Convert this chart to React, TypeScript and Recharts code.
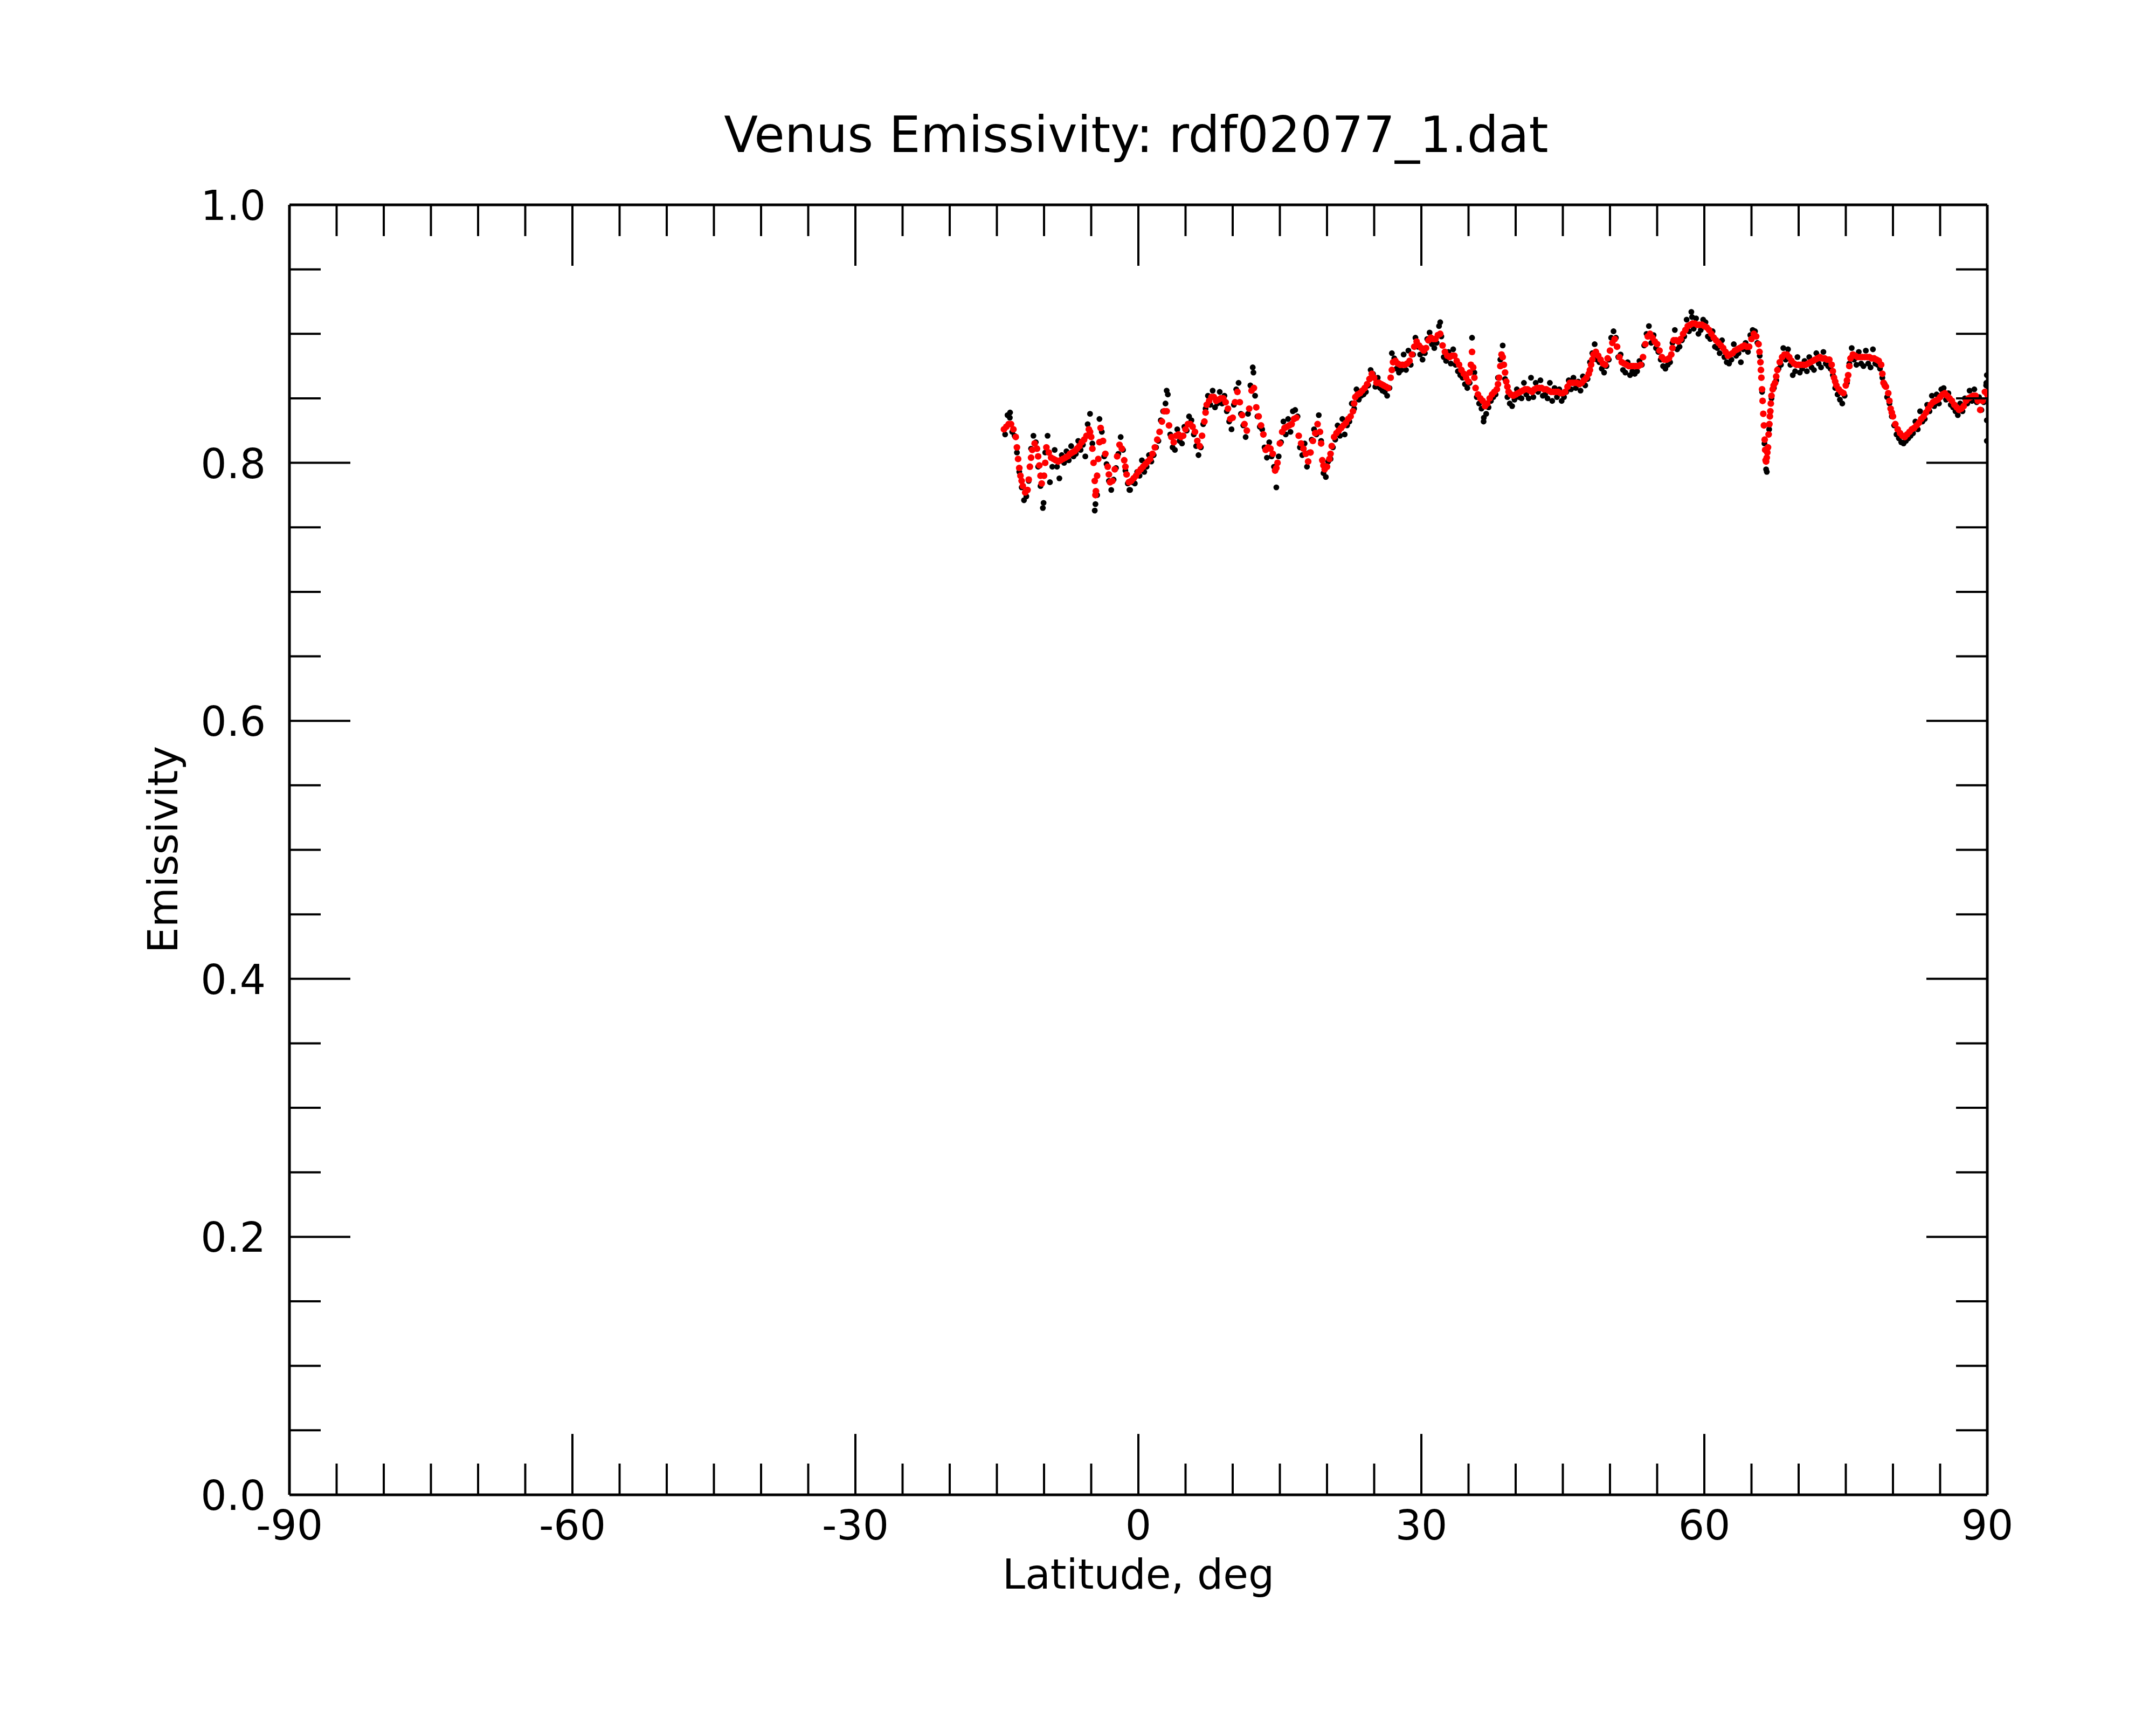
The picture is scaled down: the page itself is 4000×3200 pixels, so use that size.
import React from 'react';
import { ScatterChart, Scatter, XAxis, YAxis } from 'recharts';

// ---------- axis ticks ----------
const X_TICKS = [-90, -85, -80, -75, -70, -65, -60, -55, -50, -45, -40, -35, -30, -25, -20, -15, -10, -5, 0,
  5, 10, 15, 20, 25, 30, 35, 40, 45, 50, 55, 60, 65, 70, 75, 80, 85, 90];
const Y_TICKS = [0, 0.05, 0.1, 0.15, 0.2, 0.25, 0.3, 0.35, 0.4, 0.45, 0.5, 0.55, 0.6, 0.65, 0.7, 0.75, 0.8,
  0.85, 0.9, 0.95, 1.0];

// ---------- data: smoothed emissivity (red), 0.25 deg sampling per segment ----------
const STEP = 0.25;
const RED_1_START = -14.25;
const RED_1 = [
  0.826, 0.828, 0.830, 0.830, 0.826, 0.820, 0.803, 0.790, 0.782, 0.777,
  0.779, 0.797, 0.810, 0.815, 0.811, 0.798, 0.784, 0.790, 0.812, 0.808,
  0.804, 0.803, 0.802, 0.801, 0.802, 0.803, 0.804, 0.805, 0.807, 0.808,
  0.809, 0.811, 0.813, 0.816, 0.818, 0.821, 0.826, 0.820, 0.800, 0.778,
  0.803, 0.827, 0.817, 0.807, 0.797, 0.785, 0.786, 0.795, 0.805, 0.814,
  0.811, 0.802, 0.791, 0.785, 0.786, 0.788, 0.790, 0.793, 0.795, 0.797,
  0.799, 0.801, 0.803, 0.807, 0.812, 0.818, 0.824, 0.832, 0.840, 0.840,
];
const RED_2_START = 3.25;
const RED_2 = [
  0.829, 0.820, 0.816, 0.821, 0.822, 0.820, 0.821, 0.826, 0.830, 0.830,
  0.828, 0.824, 0.817, 0.813, 0.821, 0.832, 0.845, 0.848, 0.851, 0.851,
  0.848, 0.849, 0.850, 0.850, 0.847, 0.842, 0.834, 0.835, 0.847, 0.855,
  0.847, 0.837, 0.830, 0.825, 0.842, 0.856, 0.858, 0.843, 0.836, 0.829,
  0.822, 0.810, 0.812, 0.811, 0.807, 0.794, 0.800, 0.815, 0.824, 0.827,
  0.828, 0.829, 0.830, 0.834, 0.835, 0.821, 0.815, 0.811, 0.807, 0.801,
  0.808, 0.817, 0.823, 0.830, 0.824, 0.802, 0.795, 0.797,
];
const RED_3_START = 20.25;
const RED_3 = [
  0.803, 0.813, 0.820, 0.823, 0.825, 0.827, 0.829, 0.831, 0.834, 0.836,
  0.840, 0.851, 0.853, 0.854, 0.856, 0.858, 0.861, 0.865, 0.869, 0.866,
  0.862, 0.862, 0.861, 0.860, 0.859, 0.858, 0.866, 0.878, 0.879, 0.877,
  0.876, 0.876, 0.876, 0.877, 0.879, 0.884, 0.890, 0.894, 0.891, 0.889,
  0.887, 0.889, 0.895, 0.897, 0.896, 0.896, 0.899, 0.900, 0.891, 0.886,
  0.883, 0.882, 0.883, 0.883, 0.879, 0.876, 0.872, 0.869, 0.866, 0.863,
  0.876, 0.874, 0.858, 0.853, 0.850, 0.848, 0.844,
];
const RED_4_START = 37.0;
const RED_4 = [
  0.846, 0.850, 0.853, 0.855, 0.857, 0.866, 0.884, 0.876, 0.863, 0.855,
  0.853, 0.852, 0.853, 0.854, 0.855, 0.856, 0.857, 0.857, 0.856, 0.855,
  0.857, 0.858, 0.858, 0.858, 0.857, 0.857, 0.856, 0.855, 0.855, 0.855,
  0.855, 0.854, 0.854, 0.855, 0.859, 0.862, 0.862, 0.862, 0.862, 0.861,
  0.862, 0.864, 0.866, 0.869, 0.876, 0.884, 0.886, 0.883, 0.880, 0.877,
  0.876, 0.881, 0.887, 0.893, 0.896, 0.890, 0.882, 0.878, 0.877, 0.876,
  0.875, 0.875, 0.875, 0.875, 0.875, 0.876, 0.882, 0.892, 0.898,
];
const RED_5_START = 54.25;
const RED_5 = [
  0.900, 0.897, 0.894, 0.892, 0.887, 0.882, 0.880, 0.880, 0.881, 0.884,
  0.895, 0.895, 0.894, 0.896, 0.900, 0.903, 0.906, 0.907, 0.908, 0.908,
  0.907, 0.907, 0.907, 0.906, 0.905, 0.903, 0.900, 0.897, 0.895, 0.893,
  0.891, 0.889, 0.886, 0.883, 0.884, 0.885, 0.887, 0.888, 0.889, 0.890,
  0.891, 0.890, 0.890, 0.896, 0.900, 0.898, 0.892, 0.872, 0.838, 0.802,
  0.812, 0.840, 0.857, 0.862, 0.872, 0.878, 0.882, 0.884, 0.884, 0.882,
  0.879, 0.877, 0.876, 0.876, 0.876, 0.876,
];
const RED_6_START = 70.75;
const RED_6 = [
  0.876, 0.877, 0.878, 0.879, 0.880, 0.881, 0.882, 0.881, 0.881, 0.880,
  0.880, 0.876, 0.866, 0.860, 0.857, 0.855, 0.854, 0.860, 0.868, 0.881,
  0.884, 0.883, 0.882, 0.882, 0.882, 0.882, 0.882, 0.882, 0.881, 0.881,
  0.880, 0.879, 0.876, 0.862, 0.859, 0.854, 0.842, 0.836, 0.830, 0.826,
  0.823, 0.821, 0.820, 0.822, 0.824, 0.826, 0.827, 0.829, 0.831, 0.834,
  0.836, 0.839, 0.842, 0.845, 0.847, 0.848, 0.849, 0.851, 0.853, 0.854,
  0.852, 0.850, 0.848, 0.845, 0.843, 0.841, 0.842, 0.844, 0.848, 0.850,
  0.851, 0.852, 0.852, 0.848, 0.841, 0.848, 0.855, 0.853,
];
// extra smoothed samples on steep parts [latitude, emissivity]
const RED_EXTRA = [
  [-12.875, 0.812], [-12.625, 0.796], [-12.375, 0.786], [-11.625, 0.787], [-11.375, 0.804],
  [-10.625, 0.805], [-10.375, 0.790], [-9.875, 0.800], [-5.125, 0.824], [-4.875, 0.811],
  [-4.625, 0.786], [-4.55, 0.775], [-4.375, 0.790], [-4.125, 0.816], [-3.125, 0.791],
  [-1.375, 0.797], [7.125, 0.839], [14.625, 0.796], [19.375, 0.815], [19.625, 0.798],
  [20.375, 0.807], [22.875, 0.846], [26.875, 0.872], [35.125, 0.870], [35.375, 0.886],
  [35.625, 0.866], [38.125, 0.861], [38.375, 0.875], [38.625, 0.882], [38.875, 0.870],
  [39.125, 0.859], [47.875, 0.872], [48.125, 0.880], [56.625, 0.889], [65.85, 0.886],
  [65.95, 0.878], [66.05, 0.866], [66.12, 0.857], [66.18, 0.848], [66.32, 0.829],
  [66.4, 0.818], [66.45, 0.810], [66.55, 0.801], [66.62, 0.804], [66.68, 0.808],
  [66.82, 0.822], [66.9, 0.830], [66.95, 0.836], [67.05, 0.846], [67.12, 0.852],
  [67.35, 0.860], [67.62, 0.867], [73.625, 0.871], [73.875, 0.863], [75.125, 0.864],
  [75.375, 0.875], [78.875, 0.869], [79.125, 0.860], [79.625, 0.848], [79.875, 0.839],
];

// ---------- data: raw emissivity (black), offset by half a step ----------
const BLACK_1_START = -14.125;
const BLACK_1 = [
  0.822, 0.837, 0.835, 0.824, 0.821, 0.808, 0.793, 0.781, 0.771, 0.774,
  0.786, 0.811, 0.821, 0.816, 0.797, 0.782, 0.765, 0.808, 0.821, 0.785,
  0.797, 0.810, 0.797, 0.788, 0.806, 0.800, 0.809, 0.802, 0.813, 0.805,
  0.807, 0.817, 0.810, 0.814, 0.805, 0.830, 0.838, 0.815, 0.763, 0.775,
  0.834, 0.824, 0.805, 0.799, 0.786, 0.779, 0.787, 0.796, 0.807, 0.820,
  0.810, 0.794, 0.784, 0.779, 0.785, 0.784, 0.793, 0.790, 0.802, 0.793,
  0.797, 0.806, 0.801, 0.806, 0.812, 0.817, 0.833, 0.840, 0.846, 0.853,
];
const BLACK_2_START = 3.375;
const BLACK_2 = [
  0.822, 0.812, 0.810, 0.826, 0.817, 0.815, 0.828, 0.825, 0.836, 0.833,
  0.822, 0.813, 0.806, 0.812, 0.830, 0.842, 0.852, 0.845, 0.856, 0.843,
  0.846, 0.855, 0.846, 0.852, 0.840, 0.832, 0.826, 0.845, 0.857, 0.862,
  0.838, 0.829, 0.820, 0.838, 0.860, 0.874, 0.852, 0.836, 0.828, 0.826,
  0.812, 0.804, 0.816, 0.805, 0.797, 0.781, 0.805, 0.816, 0.832, 0.822,
  0.834, 0.824, 0.840, 0.841, 0.836, 0.812, 0.806, 0.815, 0.797, 0.808,
  0.818, 0.826, 0.822, 0.837, 0.817, 0.792, 0.789, 0.801,
];
const BLACK_3_START = 20.375;
const BLACK_3 = [
  0.803, 0.812, 0.818, 0.829, 0.821, 0.834, 0.822, 0.829, 0.832, 0.846,
  0.842, 0.857, 0.849, 0.852, 0.853, 0.855, 0.860, 0.872, 0.869, 0.859,
  0.866, 0.858, 0.856, 0.855, 0.852, 0.858, 0.885, 0.881, 0.873, 0.870,
  0.872, 0.884, 0.872, 0.887, 0.876, 0.884, 0.897, 0.890, 0.884, 0.880,
  0.885, 0.896, 0.901, 0.892, 0.889, 0.893, 0.906, 0.898, 0.882, 0.879,
  0.886, 0.877, 0.888, 0.876, 0.871, 0.868, 0.866, 0.861, 0.858, 0.862,
  0.897, 0.870, 0.851, 0.846, 0.842, 0.835, 0.838,
];
const BLACK_4_START = 37.125;
const BLACK_4 = [
  0.843, 0.848, 0.851, 0.853, 0.866, 0.880, 0.891, 0.865, 0.851, 0.846,
  0.844, 0.849, 0.857, 0.851, 0.850, 0.862, 0.853, 0.850, 0.866, 0.851,
  0.862, 0.855, 0.864, 0.852, 0.853, 0.850, 0.862, 0.848, 0.858, 0.851,
  0.857, 0.848, 0.851, 0.855, 0.864, 0.857, 0.866, 0.858, 0.863, 0.856,
  0.867, 0.860, 0.865, 0.878, 0.885, 0.892, 0.880, 0.878, 0.873, 0.870,
  0.875, 0.880, 0.897, 0.902, 0.897, 0.882, 0.884, 0.872, 0.870, 0.878,
  0.868, 0.871, 0.869, 0.871, 0.879, 0.876, 0.891, 0.900, 0.906,
];
const BLACK_5_START = 54.375;
const BLACK_5 = [
  0.893, 0.899, 0.889, 0.886, 0.880, 0.875, 0.873, 0.876, 0.878, 0.893,
  0.903, 0.888, 0.890, 0.895, 0.898, 0.911, 0.902, 0.917, 0.904, 0.912,
  0.900, 0.903, 0.911, 0.909, 0.898, 0.896, 0.902, 0.890, 0.889, 0.885,
  0.895, 0.882, 0.878, 0.877, 0.880, 0.892, 0.883, 0.885, 0.878, 0.888,
  0.893, 0.886, 0.899, 0.903, 0.902, 0.893, 0.883, 0.855, 0.815, 0.793,
  0.826, 0.850, 0.858, 0.864, 0.873, 0.876, 0.889, 0.880, 0.888, 0.876,
  0.868, 0.871, 0.882, 0.870, 0.873, 0.879,
];
const BLACK_6_START = 70.875;
const BLACK_6 = [
  0.871, 0.882, 0.874, 0.872, 0.885, 0.877, 0.874, 0.886, 0.877, 0.875,
  0.873, 0.868, 0.858, 0.853, 0.849, 0.846, 0.852, 0.862, 0.877, 0.889,
  0.880, 0.876, 0.886, 0.877, 0.875, 0.887, 0.877, 0.874, 0.888, 0.877,
  0.876, 0.873, 0.866, 0.861, 0.851, 0.846, 0.836, 0.829, 0.822, 0.819,
  0.816, 0.815, 0.817, 0.819, 0.821, 0.823, 0.832, 0.826, 0.840, 0.832,
  0.834, 0.845, 0.840, 0.852, 0.844, 0.853, 0.846, 0.857, 0.858, 0.849,
  0.854, 0.845, 0.843, 0.840, 0.837, 0.846, 0.840, 0.850, 0.846, 0.856,
  0.848, 0.857, 0.847, 0.851, 0.841, 0.847, 0.860,
];
const BLACK_EXTRA = [
  [-13.6, 0.839], [-10.05, 0.769], [-4.55, 0.768], [-0.95, 0.779], [3.0, 0.856],
  [12.2, 0.870], [32.0, 0.909], [58.7, 0.913], [66.55, 0.795], [36.6, 0.832],
  [89.95, 0.868], [89.95, 0.833], [89.95, 0.817], [89.9, 0.862],
];

type Pt = { x: number; y: number };
const seg = (start: number, values: number[]): Pt[] =>
  values.map((v, i) => ({ x: start + i * STEP, y: v }));
const pairs = (arr: number[][]): Pt[] => arr.map(([x, y]) => ({ x, y }));

const blackData: Pt[] = [
  ...seg(BLACK_1_START, BLACK_1), ...seg(BLACK_2_START, BLACK_2), ...seg(BLACK_3_START, BLACK_3),
  ...seg(BLACK_4_START, BLACK_4), ...seg(BLACK_5_START, BLACK_5), ...seg(BLACK_6_START, BLACK_6),
  ...pairs(BLACK_EXTRA),
];
const redData: Pt[] = [
  ...seg(RED_1_START, RED_1), ...seg(RED_2_START, RED_2), ...seg(RED_3_START, RED_3),
  ...seg(RED_4_START, RED_4), ...seg(RED_5_START, RED_5), ...seg(RED_6_START, RED_6),
  ...pairs(RED_EXTRA),
];

const FONT = 'DejaVu Sans';
const TICK_W = 4;
const MAJOR = 113;
const MINOR = 58;
const isMajorX = (v: number) => Math.round(v) % 30 === 0;
const isMajorY = (v: number) => Math.round(v * 100) % 20 === 0;

const BottomTick = (p: any) => {
  const v = p.payload.value;
  const major = isMajorX(v);
  return (
    <g>
      <line x1={p.x} y1={p.y} x2={p.x} y2={p.y - (major ? MAJOR : MINOR)} stroke="#000" strokeWidth={TICK_W} />
      {major && (
        <text x={p.x} y={p.y + 83} textAnchor="middle" fontSize={76} fontFamily={FONT} fill="#000">
          {String(v)}
        </text>
      )}
    </g>
  );
};
const TopTick = (p: any) => {
  const v = p.payload.value;
  const major = isMajorX(v);
  return <line x1={p.x} y1={p.y} x2={p.x} y2={p.y + (major ? MAJOR : MINOR)} stroke="#000" strokeWidth={TICK_W} />;
};
const LeftTick = (p: any) => {
  const v = p.payload.value;
  const major = isMajorY(v);
  return (
    <g>
      <line x1={p.x} y1={p.y} x2={p.x + (major ? MAJOR : MINOR)} y2={p.y} stroke="#000" strokeWidth={TICK_W} />
      {major && (
        <text x={p.x - 44} y={p.y + 28} textAnchor="end" fontSize={76} fontFamily={FONT} fill="#000">
          {v.toFixed(1)}
        </text>
      )}
    </g>
  );
};
const RightTick = (p: any) => {
  const v = p.payload.value;
  const major = isMajorY(v);
  return <line x1={p.x} y1={p.y} x2={p.x - (major ? MAJOR : MINOR)} y2={p.y} stroke="#000" strokeWidth={TICK_W} />;
};

const axisLine = { stroke: '#000', strokeWidth: 5 };

export default function App() {
  return (
    <div style={{ position: 'absolute', left: 0, top: 0, width: 4000, height: 3200, background: '#fff' }}>
      <ScatterChart width={4000} height={3200} margin={{ top: 370, right: 303, bottom: 227, left: 0 }}>
        <XAxis xAxisId="b" type="number" dataKey="x" domain={[-90, 90]} ticks={X_TICKS} interval={0}
          allowDataOverflow height={200} tickSize={0} tickMargin={0} tickLine={false}
          axisLine={axisLine} tick={BottomTick} />
        <XAxis xAxisId="t" orientation="top" type="number" dataKey="x" domain={[-90, 90]} ticks={X_TICKS}
          interval={0} allowDataOverflow height={10} tickSize={0} tickMargin={0} tickLine={false}
          axisLine={axisLine} tick={TopTick} />
        <YAxis yAxisId="l" type="number" dataKey="y" domain={[0, 1]} ticks={Y_TICKS} interval={0}
          allowDataOverflow width={537} tickSize={0} tickMargin={0} tickLine={false}
          axisLine={axisLine} tick={LeftTick} />
        <YAxis yAxisId="r" orientation="right" type="number" dataKey="y" domain={[0, 1]} ticks={Y_TICKS}
          interval={0} allowDataOverflow width={10} tickSize={0} tickMargin={0} tickLine={false}
          axisLine={axisLine} tick={RightTick} />
        <Scatter data={redData} xAxisId="t" yAxisId="r" isAnimationActive={false} shape={() => <g />} />
        <Scatter data={blackData} xAxisId="b" yAxisId="l" isAnimationActive={false}
          shape={(p: any) => <circle cx={p.cx} cy={p.cy} r={5.4} fill="#000" />} />
        <Scatter data={redData} xAxisId="b" yAxisId="l" isAnimationActive={false}
          shape={(p: any) => <circle cx={p.cx} cy={p.cy} r={6.2} fill="#ff0000" />} />
      </ScatterChart>
      <svg width={4000} height={3200} style={{ position: 'absolute', left: 0, top: 0, pointerEvents: 'none' }}>
        <text x={2108} y={282} textAnchor="middle" fontSize={92} fontFamily={FONT} fill="#000">
          Venus Emissivity: rdf02077_1.dat
        </text>
        <text x={2112} y={2947} textAnchor="middle" fontSize={76} fontFamily={FONT} fill="#000">
          Latitude, deg
        </text>
        <text transform="translate(329,1576) rotate(-90)" x={0} y={0} textAnchor="middle" fontSize={76}
          fontFamily={FONT} fill="#000">
          Emissivity
        </text>
      </svg>
    </div>
  );
}
